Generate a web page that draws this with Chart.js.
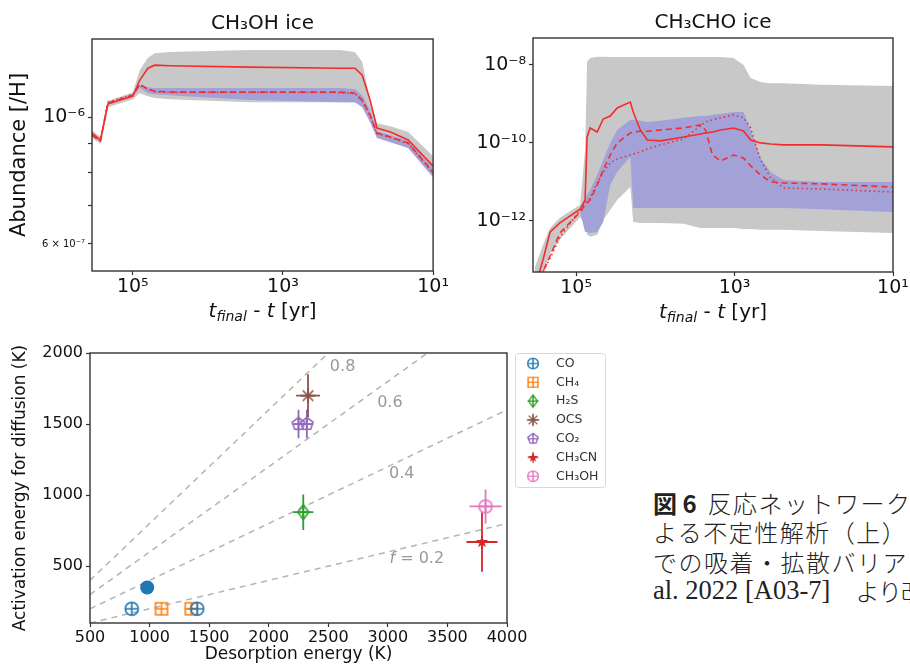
<!DOCTYPE html>
<html>
<head>
<meta charset="utf-8">
<script src="https://cdn.jsdelivr.net/npm/chart.js@4.4.1/dist/chart.umd.min.js"></script>
<style>
  html, body { margin: 0; padding: 0; background: #fff; }
  body { width: 910px; height: 666px; overflow: hidden; position: relative; }
  canvas { position: absolute; }
  #caption {
    position: absolute; left: 653px; top: 488px; width: 257px; overflow: hidden;
    font-family: "Liberation Serif", "Noto Sans CJK JP", serif; font-size: 24px;
    color: #222; white-space: nowrap;
  }
  #caption div { height: 29.3px; line-height: 29.3px; overflow: visible; }
  #caption span, #caption b { line-height: 29.3px; vertical-align: top; }
  #caption .jp { font-family: "Noto Sans CJK JP", sans-serif; letter-spacing: 1.5px; font-weight: 300; }
  #caption .lat { font-size: 26.5px; }
  #caption b { font-family: "Noto Sans CJK JP", sans-serif; font-weight: 700; }
</style>
</head>
<body>
<canvas id="meohChart" width="450" height="330" style="left:0;top:0"></canvas>
<canvas id="chochChart" width="460" height="330" style="left:450px;top:0"></canvas>
<canvas id="barrierChart" width="650" height="336" style="left:0;top:330px"></canvas>
<div id="caption">
  <div><b>図 6</b> <span class="jp" style="margin-left:5px">反応ネットワーク</span></div>
  <div><span class="jp">よる不定性解析（上）</span></div>
  <div><span class="jp">での吸着・拡散バリア</span></div>
  <div><span class="lat">al. 2022 [A03-7]</span><span class="jp" style="margin-left:25px;letter-spacing:-1px">より改</span></div>
</div>
<script>
// ---- CH3OH ice panel (t_final - t in yr, abundance per H)
const meohTime = [3.5e5, 2.7e5, 2.15e5, 1.0e5, 8.1e4, 6.3e4, 5.1e4, 3.2e4, 2.8e3, 175, 110, 88, 69, 56, 37, 21.5, 10];
const meohSolid = [9.38e-7, 9.12e-7, 1.054e-6, 1.088e-6, 1.16e-6, 1.218e-6, 1.233e-6, 1.23e-6, 1.223e-6, 1.218e-6, 1.218e-6, 1.184e-6, 1.071e-6, 9.57e-7, 9.42e-7, 9.12e-7, 8.21e-7];
const meohDash = [9.3e-7, 9.08e-7, 1.058e-6, 1.092e-6, 1.142e-6, 1.12e-6, 1.11e-6, 1.106e-6, 1.106e-6, 1.106e-6, 1.101e-6, 1.071e-6, 1.008e-6, 9.38e-7, 9.23e-7, 9.01e-7, 8.01e-7];
const meohDot = [9.34e-7, 9.1e-7, 1.062e-6, 1.096e-6, 1.14e-6, 1.118e-6, 1.108e-6, 1.105e-6, 1.105e-6, 1.104e-6, 1.1e-6, 1.068e-6, 1.005e-6, 9.36e-7, 9.21e-7, 8.99e-7, 7.98e-7];
const meohGrayHi = [9.49e-7, 9.23e-7, 1.067e-6, 1.106e-6, 1.208e-6, 1.27e-6, 1.294e-6, 1.3e-6, 1.31e-6, 1.31e-6, 1.3e-6, 1.25e-6, 1.071e-6, 9.76e-7, 9.64e-7, 9.42e-7, 8.55e-7];
const meohGrayLo = [9.19e-7, 8.97e-7, 1.041e-6, 1.075e-6, 1.101e-6, 1.088e-6, 1.08e-6, 1.075e-6, 1.062e-6, 1.062e-6, 1.062e-6, 1.045e-6, 9.88e-7, 9.23e-7, 9.08e-7, 8.83e-7, 7.85e-7];
const meohBlueHi = [9.33e-7, 9.1e-7, 1.06e-6, 1.097e-6, 1.137e-6, 1.128e-6, 1.124e-6, 1.124e-6, 1.124e-6, 1.124e-6, 1.12e-6, 1.092e-6, 1.028e-6, 9.45e-7, 9.3e-7, 9.08e-7, 8.14e-7];
const meohBlueLo = [9.27e-7, 9.05e-7, 1.055e-6, 1.084e-6, 1.124e-6, 1.101e-6, 1.097e-6, 1.092e-6, 1.071e-6, 1.062e-6, 1.062e-6, 1.041e-6, 9.8e-7, 9.19e-7, 9.04e-7, 8.83e-7, 7.85e-7];
const meohYTicks = [6e-7, 7e-7, 8e-7, 9e-7, 1e-6];
const meohYLabels = ['6 × 10⁻⁷', '', '', '', '10⁻⁶'];

// ---- CH3CHO ice panel
const chochTime = [3.3e5, 2.62e5, 2.13e5, 1.6e5, 8.9e4, 7.7e4, 7.26e4, 6.65e4, 5.42e4, 4.55e4, 3.71e4, 3.03e4, 2.07e4, 1.9e4, 1.55e4, 1.26e4, 8.6e3, 4.4e3, 2.7e3, 2.33e3, 1.9e3, 1.5e3, 1.03e3, 770, 627, 470, 350, 240, 81, 10];
const chochSolid = [2e-14, 1e-13, 5.2e-13, 8.9e-13, 2.0e-12, 3.45e-12, 1.42e-10, 2.42e-10, 1.9e-10, 4.1e-10, 4.9e-10, 7.9e-10, 1.12e-9, 6.2e-10, 2.15e-10, 1.19e-10, 1.13e-10, 1.42e-10, 1.7e-10, 1.8e-10, 1.9e-10, 2.15e-10, 2.42e-10, 2.03e-10, 1.19e-10, 1.0e-10, 9.4e-11, 8.9e-11, 8.9e-11, 7.9e-11];
const chochDash = [2e-14, 5e-14, 1.26e-13, 4.9e-13, 1.69e-12, 2.6e-12, 2.88e-12, 3.45e-12, 8.3e-12, 2.03e-11, 4.9e-11, 1.0e-10, 1.8e-10, 1.9e-10, 2.0e-10, 2.0e-10, 2.15e-10, 2.42e-10, 2.9e-10, 2.15e-10, 4.9e-11, 3.45e-11, 4.9e-11, 4.1e-11, 2.6e-11, 1.5e-11, 1.0e-11, 9.4e-12, 8.9e-12, 7.4e-12];
const chochDot = [2e-14, 5e-14, 1.1e-13, 3.9e-13, 1.9e-12, 2.9e-12, 3.3e-12, 3.9e-12, 9.4e-12, 1.8e-11, 3.07e-11, 3.9e-11, 4.9e-11, 5.2e-11, 5.9e-11, 7.0e-11, 8.9e-11, 1.27e-10, 2.73e-10, 3.45e-10, 3.9e-10, 4.4e-10, 5.25e-10, 4.4e-10, 2.42e-10, 3.67e-11, 1.27e-11, 7.0e-12, 6.6e-12, 5.5e-12];
const chochGrayHi = [6.6e-14, 2.4e-13, 6.6e-13, 1.2e-12, 2.6e-12, 6.6e-11, 1.2e-8, 1.5e-8, 1.62e-8, 1.62e-8, 1.6e-8, 1.6e-8, 1.6e-8, 1.6e-8, 1.6e-8, 1.6e-8, 1.6e-8, 1.6e-8, 1.6e-8, 1.6e-8, 1.6e-8, 1.6e-8, 1.5e-8, 1.0e-8, 4.6e-9, 3.66e-9, 3.4e-9, 3.4e-9, 3.1e-9, 2.9e-9];
const chochGrayLo = [3e-14, 5e-14, 1.4e-13, 3.3e-13, 1.26e-12, 7.9e-13, 4.4e-13, 3.9e-13, 4.4e-13, 1.06e-12, 1.9e-12, 3.45e-12, 7.4e-12, 9.4e-13, 8.9e-13, 8.9e-13, 8.9e-13, 8.4e-13, 6.6e-13, 6.6e-13, 6.6e-13, 6.6e-13, 6.6e-13, 6.2e-13, 6.2e-13, 5.9e-13, 5.9e-13, 5.9e-13, 5.5e-13, 4.9e-13];
const chochBlueHi = [2e-14, 5e-14, 1.26e-13, 4.9e-13, 1.69e-12, 3.45e-12, 4.6e-12, 6.2e-12, 1.5e-11, 3.67e-11, 1.0e-10, 2.15e-10, 3.9e-10, 3.9e-10, 3.7e-10, 3.45e-10, 3.7e-10, 4.4e-10, 4.9e-10, 4.9e-10, 5.25e-10, 5.5e-10, 6.2e-10, 6.2e-10, 2.15e-10, 4.1e-11, 1.8e-11, 1.12e-11, 1.0e-11, 1.0e-11];
const chochBlueLo = [2e-14, 5e-14, 1.26e-13, 4.9e-13, 1.69e-12, 5.2e-13, 5.2e-13, 4.9e-13, 5.2e-13, 9.4e-13, 8.3e-12, 1.8e-11, 4.4e-11, 2.14e-12, 2.14e-12, 2.14e-12, 2.14e-12, 2.14e-12, 2.14e-12, 2.14e-12, 2.14e-12, 2.14e-12, 2.14e-12, 2.14e-12, 2.14e-12, 2.14e-12, 2.14e-12, 2.14e-12, 2.0e-12, 1.69e-12];
const chochYTicks = [1e-12, 1e-10, 1e-8];
const chochYLabels = ['10⁻¹²', '10⁻¹⁰', '10⁻⁸'];

const timeTicks = [1e5, 1e3, 1e1];
const timeLabels = ['10⁵', '10³', '10¹'];

// ---- barrier panel
const speciesLabels = ['CO', 'CH₄', 'H₂S', 'OCS', 'CO₂', 'CH₃CN', 'CH₃OH'];
const speciesColors = ['#1f77b4', '#ff7f0e', '#2ca02c', '#8c564b', '#9467bd', '#d62728', '#e377c2'];
const speciesMarkers = ['circle', 'square', 'diamond', 'asterisk', 'pentagon', 'star', 'circle'];
const pointSpecies = [0, 0, 1, 1, 2, 3, 4, 4, 5, 6];
const desorption = [850, 1400, 1100, 1350, 2290, 2330, 2250, 2320, 3790, 3820];
const diffusion = [200, 200, 200, 200, 880, 1700, 1500, 1500, 670, 920];
const desorptionErr = [0, 0, 0, 40, 85, 100, 40, 40, 130, 135];
const diffusionErr = [0, 0, 0, 0, 125, 150, 100, 100, 210, 120];
const refDesorption = [980];
const refDiffusion = [350];
const fValues = [0.2, 0.4, 0.6, 0.8];
const fLabels = ['0.2', '0.4', '0.6', '0.8'];
const fLabelX = [3243, 3117, 3017, 2620];
const fLabelY = [550, 1148, 1648, 1900];
const desorptionRange = [500, 4000];
const diffusionTicks = [500, 1000, 1500, 2000];

const RED = '#f42c2c';
const GRAY = '#c8c8c8';
const BLUE = '#a3a2d8';
const FONT = '"DejaVu Sans", sans-serif';

Chart.defaults.font.family = FONT;
Chart.defaults.color = '#111';

// draw a row of differently styled text pieces, centred on cx
function drawRuns(ctx, runs, cx, cy) {
  let w = 0;
  runs.forEach(r => { ctx.font = r.font; w += ctx.measureText(r.text).width; });
  let x = cx - w / 2;
  ctx.textAlign = 'left';
  runs.forEach(r => {
    ctx.font = r.font;
    ctx.fillText(r.text, x, cy + (r.dy || 0));
    x += ctx.measureText(r.text).width;
  });
}

const frameBox = {
  id: 'frameBox',
  afterDatasetsDraw(chart) {
    const { ctx, chartArea: a } = chart;
    ctx.save();
    ctx.strokeStyle = '#333';
    ctx.lineWidth = 1.4;
    ctx.strokeRect(a.left, a.top, a.width, a.height);
    ctx.restore();
  }
};

const panelText = {
  id: 'panelText',
  afterDraw(chart, args, opts) {
    const { ctx, chartArea: a } = chart;
    const cx = (a.left + a.right) / 2;
    ctx.save();
    ctx.fillStyle = '#111';
    ctx.textBaseline = 'middle';
    if (opts.title) drawRuns(ctx, [{ text: opts.title, font: '20px ' + FONT }], cx, a.top - 15);
    if (opts.timeTitle) {
      drawRuns(ctx, [
        { text: 't', font: 'italic 20px ' + FONT },
        { text: 'final', font: 'italic 14px ' + FONT, dy: 5 },
        { text: ' - ', font: '20px ' + FONT },
        { text: 't', font: 'italic 20px ' + FONT },
        { text: ' [yr]', font: '20px ' + FONT }
      ], cx, a.bottom + 41);
    }
    ctx.restore();
  }
};

function abundanceChart(id, cfg) {
  const pts = vals => cfg.time.map((t, i) => ({ x: t, y: vals[i] }));
  const line = (vals, dash) => ({
    data: pts(vals), borderColor: RED, borderWidth: 1.6, borderDash: dash,
    pointRadius: 0, fill: false, tension: 0, order: 0
  });
  const band = (hi, lo, color, order) => [
    { data: pts(hi), borderColor: 'transparent', borderWidth: 0, pointRadius: 0, backgroundColor: color, fill: '+1', order },
    { data: pts(lo), borderColor: 'transparent', borderWidth: 0, pointRadius: 0, fill: false, order }
  ];
  return new Chart(document.getElementById(id), {
    type: 'line',
    data: {
      datasets: [
        line(cfg.solid, []),
        line(cfg.dash, [6, 4]),
        line(cfg.dot, [1.5, 3]),
        ...band(cfg.blueHi, cfg.blueLo, BLUE, 1),
        ...band(cfg.grayHi, cfg.grayLo, GRAY, 2)
      ]
    },
    options: {
      responsive: false,
      devicePixelRatio: 1,
      animation: false,
      layout: { padding: cfg.padding },
      plugins: {
        legend: { display: false },
        tooltip: { enabled: false },
        panelText: { title: cfg.title, timeTitle: true }
      },
      scales: {
        x: {
          type: 'logarithmic', min: 10, max: 3.5e5, reverse: true,
          afterBuildTicks: s => { s.ticks = timeTicks.map(v => ({ value: v })); },
          afterFit: s => { s.height = cfg.xHeight; },
          ticks: { callback: (v, i) => timeLabels[i], font: { size: 19 }, padding: 1, maxRotation: 0, autoSkip: false, color: '#111' },
          grid: { drawOnChartArea: false, tickLength: 4, tickColor: '#333', tickWidth: 1.2 },
          border: { display: false }
        },
        y: {
          type: 'logarithmic', min: cfg.yMin, max: cfg.yMax,
          afterBuildTicks: s => { s.ticks = cfg.yTicks.map(v => ({ value: v })); },
          afterFit: s => { s.width = cfg.yWidth; },
          ticks: {
            callback: (v, i) => cfg.yLabels[i],
            font: c => ({ size: cfg.smallTick === c.index ? 10 : 19 }),
            padding: 3, autoSkip: false, color: '#111'
          },
          grid: { drawOnChartArea: false, tickLength: 4, tickColor: '#333', tickWidth: 1.2 },
          border: { display: false },
          title: { display: !!cfg.yTitle, text: cfg.yTitle, font: { size: 21 }, padding: { top: 7, bottom: 0 }, color: '#111' }
        }
      }
    },
    plugins: [frameBox, panelText]
  });
}

abundanceChart('meohChart', {
  time: meohTime, solid: meohSolid, dash: meohDash, dot: meohDot,
  grayHi: meohGrayHi, grayLo: meohGrayLo, blueHi: meohBlueHi, blueLo: meohBlueLo,
  yMin: 5.38e-7, yMax: 1.37e-6, yTicks: meohYTicks, yLabels: meohYLabels, smallTick: 0,
  yTitle: 'Abundance [/H]', title: 'CH₃OH ice',
  padding: { left: 0, right: 16, top: 39, bottom: 0 }, yWidth: 92, xHeight: 59
});

abundanceChart('chochChart', {
  time: chochTime, solid: chochSolid, dash: chochDash, dot: chochDot,
  grayHi: chochGrayHi, grayLo: chochGrayLo, blueHi: chochBlueHi, blueLo: chochBlueLo,
  yMin: 4.9e-14, yMax: 4.9e-8, yTicks: chochYTicks, yLabels: chochYLabels, smallTick: -1,
  yTitle: '', title: 'CH₃CHO ice',
  padding: { left: 0, right: 17, top: 38, bottom: 0 }, yWidth: 83, xHeight: 58
});

// marker glyphs: open shape with a cross through it, like errorbar markers
function makeMarker(kind, color) {
  const c = document.createElement('canvas');
  c.width = c.height = 22;
  const g = c.getContext('2d');
  const r = 6.5;
  g.translate(11, 11);
  g.strokeStyle = color;
  g.fillStyle = color;
  g.lineWidth = 1.6;
  g.beginPath();
  if (kind === 'circle') {
    g.arc(0, 0, r, 0, Math.PI * 2);
  } else if (kind === 'square') {
    g.rect(-r + 0.5, -r + 0.5, 2 * r - 1, 2 * r - 1);
  } else if (kind === 'diamond') {
    g.moveTo(0, -r - 1); g.lineTo(r - 1, 0); g.lineTo(0, r + 1); g.lineTo(-r + 1, 0); g.closePath();
  } else if (kind === 'pentagon') {
    for (let k = 0; k < 5; k++) {
      const ang = -Math.PI / 2 + k * Math.PI * 2 / 5;
      g.lineTo(Math.cos(ang) * r, Math.sin(ang) * r);
    }
    g.closePath();
  } else if (kind === 'star') {
    for (let k = 0; k < 10; k++) {
      const ang = -Math.PI / 2 + k * Math.PI / 5;
      const rr = k % 2 ? 2.6 : r;
      g.lineTo(Math.cos(ang) * rr, Math.sin(ang) * rr);
    }
    g.closePath();
  } else if (kind === 'asterisk') {
    for (let k = 0; k < 4; k++) {
      const ang = k * Math.PI / 4;
      g.moveTo(Math.cos(ang) * (r + 1), Math.sin(ang) * (r + 1));
      g.lineTo(-Math.cos(ang) * (r + 1), -Math.sin(ang) * (r + 1));
    }
  }
  if (kind === 'star') g.fill(); else g.stroke();
  g.beginPath();
  g.moveTo(-r, 0); g.lineTo(r, 0);
  g.moveTo(0, -r); g.lineTo(0, r);
  g.stroke();
  return c;
}

const markerImgs = speciesMarkers.map((m, i) => makeMarker(m, speciesColors[i]));

const barrierSets = [];
speciesLabels.forEach((label, s) => {
  const idx = pointSpecies.map((p, i) => (p === s ? i : -1)).filter(i => i >= 0);
  barrierSets.push({
    label,
    data: idx.map(i => ({ x: desorption[i], y: diffusion[i] })),
    pointStyle: markerImgs[s], pointRadius: 6, showLine: false, order: 0
  });
  const err = [];
  idx.forEach(i => {
    err.push({ x: desorption[i] - desorptionErr[i], y: diffusion[i] }, { x: desorption[i] + desorptionErr[i], y: diffusion[i] }, { x: desorption[i], y: null });
    err.push({ x: desorption[i], y: diffusion[i] - diffusionErr[i] }, { x: desorption[i], y: diffusion[i] + diffusionErr[i] }, { x: desorption[i], y: null });
  });
  barrierSets.push({ data: err, showLine: true, borderColor: speciesColors[s], borderWidth: 1.8, pointRadius: 0, spanGaps: false, order: 1 });
});
barrierSets.push({
  data: refDesorption.map((x, i) => ({ x, y: refDiffusion[i] })),
  pointStyle: 'circle', pointRadius: 7, backgroundColor: speciesColors[0], borderWidth: 0, showLine: false, order: 0
});
fValues.forEach(f => {
  barrierSets.push({
    data: desorptionRange.map(x => ({ x, y: f * x })),
    showLine: true, borderColor: '#b4b4b4', borderDash: [6, 5], borderWidth: 1.5, pointRadius: 0, order: 2
  });
});

const fLabelPlugin = {
  id: 'fLabels',
  afterDatasetsDraw(chart) {
    const { ctx, scales: { x, y } } = chart;
    ctx.save();
    ctx.fillStyle = '#999';
    ctx.textBaseline = 'middle';
    fLabels.forEach((t, i) => {
      const runs = i === 0
        ? [{ text: 'f', font: 'italic 16px ' + FONT }, { text: ' = ' + t, font: '16px ' + FONT }]
        : [{ text: t, font: '16px ' + FONT }];
      drawRuns(ctx, runs, x.getPixelForValue(fLabelX[i]), y.getPixelForValue(fLabelY[i]));
    });
    ctx.restore();
  }
};

const speciesLegend = {
  id: 'speciesLegend',
  afterDraw(chart) {
    const { ctx, chartArea: a } = chart;
    const left = a.right + 8, top = a.top, w = 90, h = 134;
    ctx.save();
    ctx.beginPath();
    ctx.roundRect(left + 0.5, top + 0.5, w, h, 3);
    ctx.fillStyle = '#fff';
    ctx.fill();
    ctx.strokeStyle = '#d8d8d8';
    ctx.lineWidth = 1;
    ctx.stroke();
    ctx.font = '12.5px ' + FONT;
    ctx.textBaseline = 'middle';
    ctx.textAlign = 'left';
    ctx.fillStyle = '#333';
    speciesLabels.forEach((label, i) => {
      const cy = top + 10.5 + i * 18.8;
      ctx.drawImage(markerImgs[i], left + 18 - 9, cy - 9, 18, 18);
      ctx.fillText(label, left + 41, cy);
    });
    ctx.restore();
  }
};

new Chart(document.getElementById('barrierChart'), {
  type: 'scatter',
  data: { datasets: barrierSets },
  options: {
    responsive: false,
    devicePixelRatio: 1,
    animation: false,
    layout: { padding: { left: 0, right: 143, top: 23, bottom: 0 } },
    plugins: { legend: { display: false }, tooltip: { enabled: false } },
    scales: {
      x: {
        type: 'linear', min: desorptionRange[0], max: desorptionRange[1],
        afterFit: s => { s.height = 43; },
        ticks: { stepSize: 500, callback: v => String(v), font: { size: 16 }, padding: 1, maxRotation: 0, color: '#111' },
        grid: { drawOnChartArea: false, tickLength: 4, tickColor: '#333', tickWidth: 1.2 },
        border: { display: false },
        title: { display: true, text: 'Desorption energy (K)', font: { size: 17 }, padding: { top: 0, bottom: 1 }, color: '#111' }
      },
      y: {
        type: 'linear', min: 100, max: 2000,
        afterBuildTicks: s => { s.ticks = diffusionTicks.map(v => ({ value: v })); },
        afterFit: s => { s.width = 90; },
        ticks: { callback: v => String(v), font: { size: 16 }, padding: 3, color: '#111' },
        grid: { drawOnChartArea: false, tickLength: 4, tickColor: '#333', tickWidth: 1.2 },
        border: { display: false },
        title: { display: true, text: 'Activation energy for diffusion (K)', font: { size: 17 }, padding: { top: 10, bottom: 0 }, color: '#111' }
      }
    }
  },
  plugins: [frameBox, fLabelPlugin, speciesLegend]
});
</script>
</body>
</html>
